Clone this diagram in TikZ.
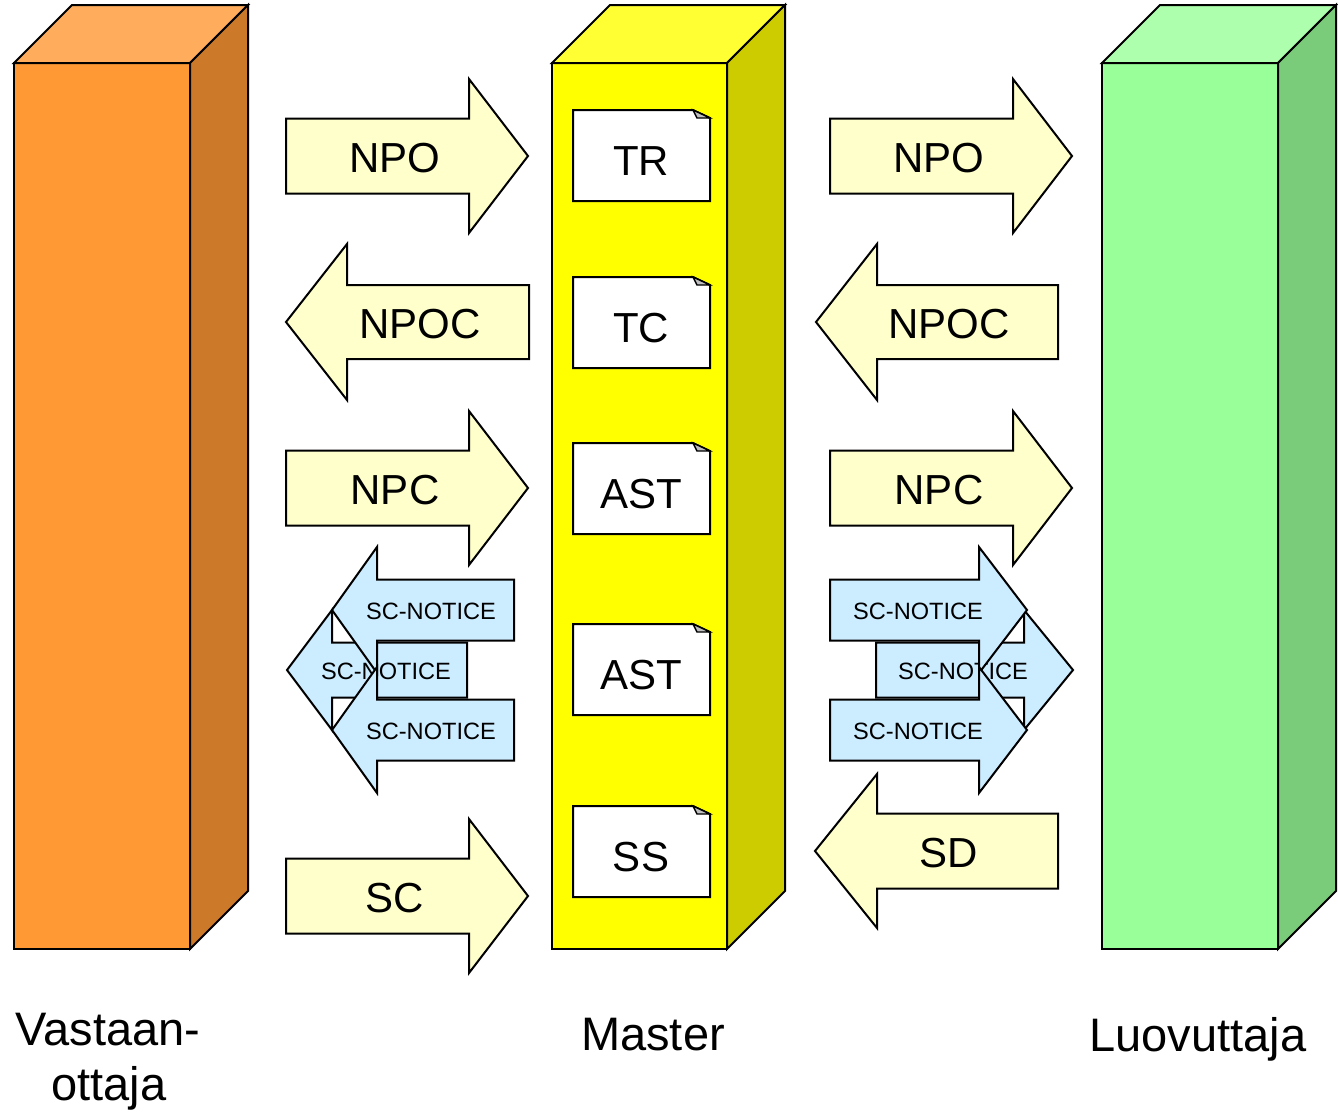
\documentclass[tikz,border=0pt]{standalone}
\usepackage{fontspec}
\setmainfont{Liberation Sans}
\definecolor{orF}{HTML}{FF9933}
\definecolor{orT}{HTML}{FFAD5C}
\definecolor{orS}{HTML}{CC7A29}
\definecolor{yeF}{HTML}{FFFF00}
\definecolor{yeT}{HTML}{FFFF33}
\definecolor{yeS}{HTML}{CCCC00}
\definecolor{grF}{HTML}{99FF99}
\definecolor{grT}{HTML}{ADFFAD}
\definecolor{grS}{HTML}{7ACC7A}
\definecolor{arrY}{HTML}{FFFFCC}
\definecolor{arrB}{HTML}{CCECFF}
\newcommand{\ArrowShape}[7]{\filldraw[#1] (#2,#5-#6) -- (#3,#5-#6) -- (#3,#5-#7) -- (#4,#5) -- (#3,#5+#7) -- (#3,#5+#6) -- (#2,#5+#6) -- cycle;}
\newcommand{\PrismBox}[8]{%
  \filldraw[outl,fill=#6] (#2,#4) rectangle (#3,#5);
  \filldraw[outl,fill=#7] (#2,#4) -- (#2+58,#4-58) -- (#3+58,#4-58) -- (#3,#4) -- cycle;
  \filldraw[outl,fill=#8] (#3,#4) -- (#3+58,#4-58) -- (#3+58,#5-58) -- (#3,#5) -- cycle;
  \coordinate (#1) at ({(#2+#3)/2},{(#4+#5)/2});}
\newcommand{\DocBox}[4]{%
  \filldraw[outl,fill=white] (573,#2) -- (693,#2) -- (710,#2+8) -- (710,#2+91) -- (573,#2+91) -- cycle;
  \filldraw[line width=1.4pt,fill=gray!50] (693,#2) -- (697,#2+8) -- (710,#2+8) -- cycle;
  \node[big,anchor=base] (#1) at (641,#4) {#3};}
\tikzset{
  outl/.style={draw=black,line width=2pt,line join=miter},
  yarr/.style={outl,fill=arrY},
  barr/.style={outl,fill=arrB},
  big/.style={inner sep=0pt,font=\fontsize{42}{50}\selectfont},
  small/.style={inner sep=0pt,font=\fontsize{23.6}{28}\selectfont},
  lab/.style={inner sep=0pt,font=\fontsize{47}{50}\selectfont,align=center}
}
\begin{document}
\begin{tikzpicture}[x=1pt,y=-1pt]
\useasboundingbox (0,0) rectangle (1338,1112);
% prisms
\PrismBox{vast}{14}{190}{63}{949}{orF}{orT}{orS}
\PrismBox{mast}{552}{727}{63}{949}{yeF}{yeT}{yeS}
\PrismBox{luov}{1102}{1278}{63}{949}{grF}{grT}{grS}
% documents
\DocBox{tr}{110}{TR}{175}
\DocBox{tc}{277}{TC}{342}
\DocBox{ast1}{443}{AST}{508}
\DocBox{ast2}{624}{AST}{689}
\DocBox{ss}{806}{SS}{871}
% yellow arrows left
\ArrowShape{yarr}{286}{469}{528}{156}{37.5}{77}
\node[big,anchor=base] (npoL) at (395,172) {NPO};
\ArrowShape{yarr}{529}{347}{286}{322}{37}{78}
\node[big,anchor=base] (npocL) at (420,338) {NPOC};
\ArrowShape{yarr}{286}{469}{528}{488}{37.5}{77}
\node[big,anchor=base] (npcL) at (395,504) {NPC};
\ArrowShape{yarr}{286}{469}{528}{896}{37.5}{77}
\node[big,anchor=base] (scL) at (395,912) {SC};
% yellow arrows right
\ArrowShape{yarr}{830}{1013}{1072}{156}{37.5}{77}
\node[big,anchor=base] (npoR) at (939,172) {NPO};
\ArrowShape{yarr}{1058}{877}{816}{322}{37}{78}
\node[big,anchor=base] (npocR) at (949,338) {NPOC};
\ArrowShape{yarr}{830}{1013}{1072}{488}{37.5}{77}
\node[big,anchor=base] (npcR) at (939,504) {NPC};
\ArrowShape{yarr}{1058}{877}{815}{851}{37.5}{77}
\node[big,anchor=base] (sdR) at (949,867) {SD};
% blue arrows left
\ArrowShape{barr}{467}{332}{287}{670}{27.5}{60}
\node[small,anchor=base] (scnLm) at (386,679) {SC-NOTICE};
\ArrowShape{barr}{514}{377}{332}{610}{30.5}{63}
\node[small,anchor=base] (scnLt) at (431,619) {SC-NOTICE};
\ArrowShape{barr}{514}{377}{332}{730}{30.5}{63}
\node[small,anchor=base] (scnLb) at (431,739) {SC-NOTICE};
% blue arrows right
\ArrowShape{barr}{876}{1024}{1073}{670}{27.5}{60}
\node[small,anchor=base] (scnRm) at (963,679) {SC-NOTICE};
\ArrowShape{barr}{830}{979}{1027}{610}{30.5}{63}
\node[small,anchor=base] (scnRt) at (918,619) {SC-NOTICE};
\ArrowShape{barr}{830}{979}{1027}{730}{30.5}{63}
\node[small,anchor=base] (scnRb) at (918,739) {SC-NOTICE};
% labels
\node[lab,anchor=base] (labV1) at (108,1045) {Vastaan-};
\node[lab,anchor=base] (labV2) at (109,1100) {ottaja};
\node[lab,anchor=base] (labM) at (653,1050) {Master};
\node[lab,anchor=base] (labL) at (1198,1051) {Luovuttaja};
\end{tikzpicture}
\end{document}
